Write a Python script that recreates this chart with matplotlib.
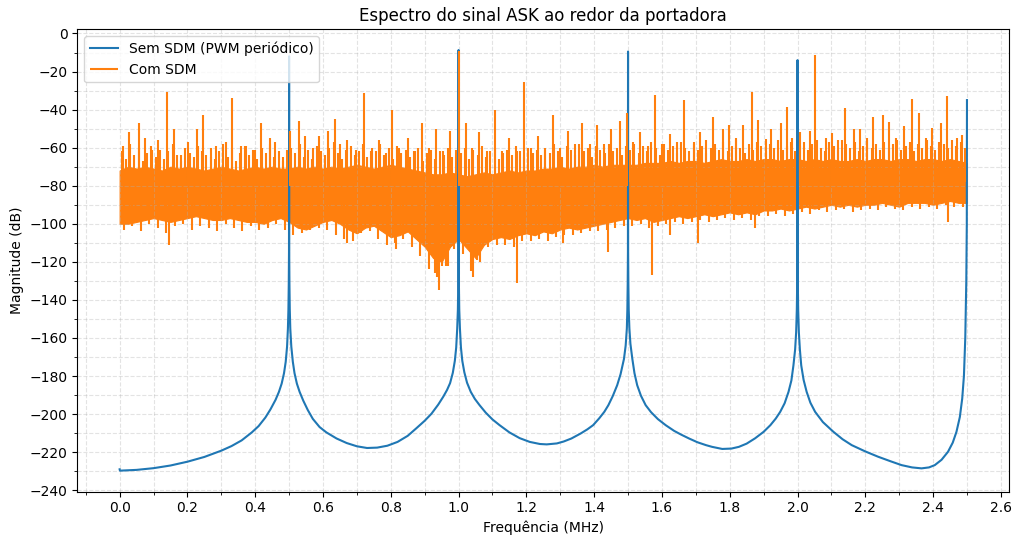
"""
Espectro ASK ao redor da portadora: PWM periódico vs. SDM
Valores lidos da figura de referência
"""
import numpy as np
import matplotlib
matplotlib.use("Agg")
import matplotlib.pyplot as plt
from matplotlib.ticker import MultipleLocator, AutoMinorLocator

# --- Sem SDM (PWM periódico): pontos da curva azul (MHz, dB) ---
pwm_freq = [0.0, 0.001, 0.05, 0.1, 0.15, 0.2, 0.25, 0.3, 0.33, 0.36, 0.39, 0.41, 0.43,
            0.445, 0.46, 0.47, 0.478, 0.485, 0.49, 0.494, 0.4965, 0.498, 0.499, 0.4997,
            0.5,
            0.5003, 0.501, 0.502, 0.5035, 0.5065, 0.511, 0.516, 0.523, 0.531, 0.542,
            0.555, 0.57, 0.59, 0.61, 0.64, 0.67, 0.70, 0.73, 0.76, 0.79, 0.82, 0.85,
            0.875, 0.9, 0.92, 0.94, 0.955, 0.966, 0.975, 0.983, 0.989, 0.993, 0.996,
            0.998, 0.999, 0.9997,
            1.0,
            1.0003, 1.001, 1.002, 1.004, 1.007, 1.011, 1.017, 1.025, 1.036, 1.048,
            1.062, 1.08, 1.1, 1.121, 1.15, 1.18, 1.21, 1.24, 1.26, 1.29, 1.31, 1.333,
            1.36, 1.38, 1.397, 1.415, 1.43, 1.442, 1.455, 1.468, 1.478, 1.488, 1.493,
            1.4965, 1.498, 1.499, 1.4997,
            1.5,
            1.5003, 1.501, 1.502, 1.504, 1.507, 1.5127, 1.519, 1.527, 1.538, 1.552,
            1.568, 1.588, 1.611, 1.636, 1.657, 1.680, 1.705, 1.73, 1.748, 1.778, 1.805,
            1.827, 1.85, 1.875, 1.900, 1.92, 1.936, 1.949, 1.962, 1.9735, 1.982,
            1.988, 1.993, 1.996, 1.998, 1.999, 1.9997,
            2.0,
            2.0003, 2.001, 2.002, 2.004, 2.007, 2.011, 2.018, 2.027, 2.038, 2.052,
            2.075, 2.106, 2.133, 2.160, 2.2, 2.238, 2.275, 2.307, 2.338, 2.366,
            2.388, 2.405, 2.425, 2.444, 2.458, 2.469, 2.479, 2.486, 2.491, 2.495,
            2.498, 2.4995, 2.5]
pwm_db = [-229.0, -229.7, -229.3, -228.4, -227.0, -225.0, -222.5, -219.2, -216.8, -213.8,
          -209.6, -206.3, -201.8, -197.5, -192.5, -188.3, -184.0, -178.5, -172.5, -164.5,
          -155.0, -145.0, -132.0, -115.0,
          -12.0,
          -115.0, -132.0, -145.0, -155.0, -164.5, -172.5, -178.5, -184.0, -188.3, -193.0,
          -197.8, -202.5, -206.8, -209.6, -212.8, -215.2, -216.9, -217.8, -217.6, -216.6,
          -214.6, -211.4, -207.5, -203.5, -199.8, -195.0, -190.8, -187.3, -183.7, -178.3,
          -172.0, -165.0, -155.0, -145.0, -132.0, -115.0,
          -8.7,
          -115.0, -132.0, -145.0, -155.0, -165.0, -172.0, -178.0, -183.5, -188.3, -192.0,
          -195.3, -199.2, -202.8, -205.8, -209.6, -212.6, -214.6, -215.7, -215.9, -215.4,
          -214.4, -212.8, -210.2, -208.0, -205.8, -202.2, -198.8, -195.3, -190.5, -184.8,
          -179.0, -171.0, -164.0, -155.0, -145.0, -132.0, -115.0,
          -9.5,
          -115.0, -132.0, -145.0, -155.0, -163.0, -171.0, -178.5, -184.8, -190.3, -195.3,
          -199.0, -202.6, -205.8, -208.8, -210.8, -212.8, -214.8, -216.3, -217.2, -218.3,
          -218.1, -217.2, -215.5, -212.7, -209.3, -205.8, -202.3, -198.8, -194.3, -188.3,
          -182.3, -174.4, -166.0, -157.0, -145.0, -132.0, -115.0,
          -14.0,
          -115.0, -132.0, -145.0, -157.0, -166.0, -174.4, -182.0, -188.3, -194.0, -198.8,
          -204.2, -209.3, -213.2, -216.3, -219.6, -222.4, -224.8, -226.8, -228.0, -228.5,
          -228.0, -226.8, -224.0, -219.8, -215.0, -209.3, -201.5, -191.8, -180.0, -160.0,
          -130.0, -100.0, -35.0]

# --- Com SDM: núcleo da faixa de ruído (envelopes a cada 0.025 MHz) ---
band_freq = np.round(np.arange(0, 2.5001, 0.025), 4)
band_hi = [-72, -70, -71, -70, -71, -72, -70, -71, -70, -71, -72, -71, -70, -71, -72, -71,
           -70, -71, -70, -71, -71,
           -70, -71, -70, -71, -70, -71, -70, -69, -70, -71, -70, -69, -70, -71,
           -72, -73, -74, -74, -73, -74, -75, -74, -73, -74, -73, -72, -73, -72,
           -72, -71, -71, -70, -71, -70, -70, -69, -70, -69, -69, -69,
           -69, -68, -68, -68, -67, -68, -67, -67, -68, -67, -66, -67, -67, -66, -67,
           -66, -66, -67, -66, -66,
           -67, -66, -67, -66, -67, -67, -66, -67, -66, -66, -67, -66, -66, -67, -66,
           -66, -67, -66, -67, -68]
band_lo = [-100, -100, -99, -98, -97, -98, -99, -98, -97, -96, -97, -98, -98, -97, -98, -99,
           -99, -100, -98, -97, -99,
           -102, -103, -101, -99, -98, -100, -103, -105, -102, -101, -104, -107, -106, -104,
           -108, -112, -118, -120, -112, -108, -113, -118, -111, -108, -107, -108, -106, -105,
           -106, -104, -105, -103, -102, -103, -102, -101, -100, -99, -98, -97,
           -98, -97, -99, -98, -97, -96, -97, -96, -95, -96, -95, -94, -95, -94, -95,
           -93, -93, -92, -93, -92,
           -91, -92, -91, -90, -91, -90, -91, -90, -90, -89, -90, -91, -89, -89, -89,
           -90, -89, -88, -89, -89]

# picos menores no topo da faixa (a cada 0.0125 MHz)
minor_freq = np.round(np.arange(0.00625, 2.5, 0.0125), 5)
minor_top = [-62, -66, -58, -64, -60, -67, -63, -59, -65, -61, -66, -62, -58, -64, -67, -60,
             -63, -65, -59, -62,
             -64, -60, -66, -62, -58, -65, -61, -67, -63, -59, -64, -61, -66, -60, -63, -58,
             -65, -62, -67, -61,
             -60, -63, -58, -65, -61, -66, -59, -62, -64, -60, -57, -63, -66, -61, -59, -64,
             -62, -58, -65, -60,
             -62, -58, -64, -60, -66, -59, -63, -61, -65, -62, -60, -67, -63, -61, -66, -62,
             -64, -60, -65, -61,
             -63, -60, -66, -61, -64, -59, -65, -62, -60, -66, -63, -61, -64, -59, -62, -65,
             -60, -63, -61, -64,
             -60, -63, -58, -62, -65, -59, -61, -64, -58, -62, -60, -65, -59, -61, -63, -58,
             -62, -60, -64, -59,
             -61, -58, -63, -59, -62, -57, -60, -64, -58, -61, -59, -63, -57, -60, -62, -58,
             -61, -59, -63, -60,
             -58, -61, -57, -62, -59, -56, -60, -63, -58, -61, -57, -59, -62, -58, -60, -56,
             -61, -59, -57, -62,
             -59, -57, -61, -58, -56, -60, -62, -57, -59, -61, -56, -58, -60, -57, -62, -59,
             -56, -60, -58, -61,
             -57, -60, -58, -56, -61, -59, -57, -62, -58, -60, -56, -59, -61, -57, -58, -60,
             -56, -59, -57, -60]

# dentes na borda inferior (a cada 0.025 MHz, deslocados de 0.0125)
teeth_freq = np.round(np.arange(0.0125, 2.5, 0.025), 4)
teeth_bot = [-103, -101, -104, -100, -102, -105, -101, -100, -103, -101, -102, -104, -100,
             -102, -104, -101, -103, -102, -100, -103,
             -106, -105, -103, -102, -103, -106, -108, -109, -105, -104, -108, -111, -110,
             -108, -112, -117, -124, -128, -122, -113,
             -116, -125, -120, -112, -111, -111, -112, -109, -109, -108, -109, -107, -106,
             -106, -105, -104, -104, -103, -102, -101,
             -101, -100, -102, -101, -100, -99, -100, -99, -98, -99, -98, -97, -98, -97,
             -98, -96, -96, -95, -96, -95,
             -94, -95, -93, -94, -93, -92, -94, -93, -92, -93, -91, -92, -93, -91, -92,
             -91, -92, -90, -91, -91]

# picos principais acima da faixa (MHz, dB)
spike_freq = [0.009, 0.029, 0.056, 0.074, 0.096, 0.114, 0.141, 0.160, 0.180, 0.201, 0.227,
              0.246, 0.269, 0.285, 0.313, 0.333, 0.359, 0.372, 0.399, 0.417, 0.444, 0.458,
              0.483, 0.504, 0.530, 0.548, 0.570, 0.588, 0.614, 0.634, 0.649, 0.672, 0.698,
              0.720, 0.743, 0.765, 0.785, 0.805, 0.825, 0.851, 0.871, 0.891, 0.912, 0.933,
              0.955, 0.975, 1.000, 1.021, 1.040, 1.061, 1.083, 1.108, 1.128, 1.150, 1.172,
              1.194, 1.214, 1.234, 1.256, 1.278, 1.300, 1.322, 1.343, 1.364, 1.388, 1.409,
              1.430, 1.449, 1.476, 1.496, 1.516, 1.534, 1.558, 1.581, 1.600, 1.625, 1.645,
              1.666, 1.694, 1.711, 1.730, 1.752, 1.780, 1.798, 1.820, 1.839, 1.866, 1.884,
              1.908, 1.923, 1.951, 1.969, 1.985, 2.007, 2.036, 2.053, 2.083, 2.101, 2.120,
              2.140, 2.168, 2.185, 2.205, 2.224, 2.252, 2.270, 2.290, 2.313, 2.338, 2.358,
              2.378, 2.397, 2.424, 2.441, 2.471, 2.486]
spike_db = [-59, -52, -47, -55, -61, -56, -30.5, -50, -64, -57, -50,
            -43, -65, -59, -57, -34, -59, -59, -61, -47, -55, -57,
            -65, -51, -46, -54, -60, -54, -51, -45, -58, -56, -61,
            -31.5, -62, -56, -63, -40, -60, -55, -62, -47, -60, -50,
            -62, -51, -9.3, -47, -60, -52, -62, -40, -62, -55, -62,
            -25.5, -60, -54, -61, -43, -60, -51, -58, -47, -58, -48,
            -58, -50, -46, -42, -57, -52, -59, -32.5, -58, -53, -57,
            -35, -57, -52, -56, -44, -50, -48, -55, -48, -30.6, -45.6,
            -55.6, -50, -47, -38.4, -55, -52, -51, -11.5, -55, -52.5, -56,
            -39, -50, -50, -55, -44, -43, -46.5, -55, -48.7, -34.2, -41.6,
            -55, -49.6, -46.8, -32.8, -55, -53.6]

# quedas principais abaixo da faixa (MHz, dB)
dip_freq = [0.145, 0.672, 0.816, 0.929, 0.942, 0.952, 0.968, 1.042, 1.054, 1.171,
            1.307, 1.441, 1.572, 1.623, 1.705, 1.876, 2.443]
dip_db = [-111, -110, -113, -126, -135, -122, -122, -128, -119, -131,
          -110, -115, -127, -106, -110, -102, -99]

BLUE = "#1f77b4"
ORANGE = "#ff7f0e"

fig, ax = plt.subplots(figsize=(10.14, 5.37), dpi=100)
fig.subplots_adjust(left=0.0762, right=0.9954, bottom=0.0844, top=0.946)

ax.plot(pwm_freq, pwm_db, color=BLUE, linewidth=1.5, label="Sem SDM (PWM periódico)")

ax.fill_between(band_freq, band_lo, band_hi, color=ORANGE, linewidth=0.8, edgecolor=ORANGE)
ax.vlines(minor_freq, -78, minor_top, color=ORANGE, linewidth=1.5)
ax.vlines(teeth_freq, -85, teeth_bot, color=ORANGE, linewidth=1.5)
ax.vlines(spike_freq, -80, spike_db, color=ORANGE, linewidth=1.5, label="Com SDM")
ax.vlines(dip_freq, -85, dip_db, color=ORANGE, linewidth=1.5)

ax.set_title("Espectro do sinal ASK ao redor da portadora")
ax.set_xlabel("Frequência (MHz)")
ax.set_ylabel("Magnitude (dB)")

ax.xaxis.set_major_locator(MultipleLocator(0.2))
ax.xaxis.set_minor_locator(AutoMinorLocator(2))
ax.yaxis.set_major_locator(MultipleLocator(20))
ax.yaxis.set_minor_locator(AutoMinorLocator(2))
ax.grid(True, which="both", linestyle="--", linewidth=0.8, alpha=0.35)

ax.legend(loc="upper left")

fig.savefig("out.png", dpi=100)
